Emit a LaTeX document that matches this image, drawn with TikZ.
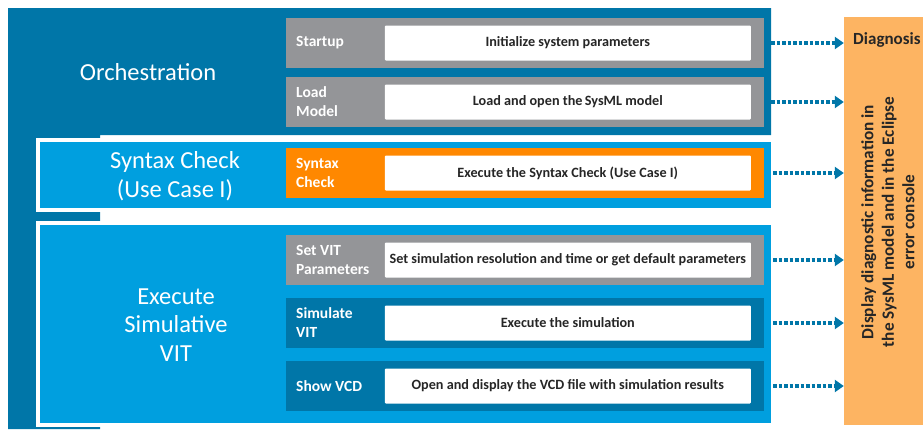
\documentclass[tikz,border=0pt]{standalone}
\usepackage{fontspec}
\setmainfont{Carlito}
\usepackage{tikz}
\usetikzlibrary{positioning,arrows.meta}

\definecolor{orchblue}{RGB}{0,118,168}
\definecolor{grpblue}{RGB}{0,159,223}
\definecolor{rowgray}{RGB}{148,149,152}
\definecolor{synorange}{RGB}{255,136,0}
\definecolor{diagorange}{RGB}{253,180,98}
\definecolor{txtgray}{RGB}{38,38,38}

\begin{document}
\begin{tikzpicture}[x=1pt,y=-1pt,
        grp/.style={rectangle,fill=grpblue,draw=white,line width=4pt,outer sep=0pt,minimum width=735.5pt},
        row/.style={rectangle,inner sep=0pt,outer sep=0pt,minimum width=478pt,minimum height=50pt},
        txtbox/.style={rectangle,fill=white,rounded corners=1pt,minimum width=366pt,minimum height=35pt,
            font=\bfseries\fontsize{14.2}{16}\selectfont,text=txtgray},
        rowlabel/.style={anchor=west,align=left,inner sep=0pt,text=white,font=\bfseries\fontsize{15.5}{19}\selectfont},
        grplabel/.style={align=center,text=white,font=\fontsize{24.5}{28.5}\selectfont},
        arrow/.style={-{Triangle[length=9pt,width=12pt]},orchblue,line width=3.5pt,dash pattern=on 3.5pt off 2pt}]
        \useasboundingbox (0,0) rectangle (923,429);
        % dark background of the orchestration part
        \fill[orchblue] (8,8) -| (771,135) -| (100,429) -| cycle;
        \coordinate (orch) at (771,71);
        \node[grplabel] (orchl) at (148,72) {Orchestration};
        \node[grp,minimum height=70pt] (syn) at (405.25,174.5) {};
        \node[grp,minimum height=202pt] (exec) at (405.25,323.5) {};
        \node[grplabel] (synl) at (175,176) {Syntax Check\\(Use Case I)};
        \node[grplabel] (execl) at (176,325) {Execute\\Simulative\\VIT};
        % rows
        \node[row,fill=rowgray] (start) at (525,43) {};
        \node[row,fill=rowgray,below=9pt of start] (load) {};
        \node[row,fill=synorange] (check) at (525,173) {};
        \node[row,fill=rowgray] (setvit) at (525,260) {};
        \node[row,fill=orchblue,below=13pt of setvit] (simvit) {};
        \node[row,fill=orchblue,below=13pt of simvit] (vcd) {};
        \node[rowlabel] at ([xshift=10pt]start.west) {Startup};
        \node[rowlabel] at ([xshift=10pt]load.west) {Load\\Model};
        \node[rowlabel] at ([xshift=10pt]check.west) {Syntax\\Check};
        \node[rowlabel] at ([xshift=10pt]setvit.west) {Set VIT\\Parameters};
        \node[rowlabel] at ([xshift=10pt]simvit.west) {Simulate\\VIT};
        \node[rowlabel] at ([xshift=10pt]vcd.west) {Show VCD};
        \node[txtbox,anchor=east] (startt) at ([xshift=-13pt]start.east) {Initialize system parameters};
        \node[txtbox,anchor=east] (loadt) at ([xshift=-13pt]load.east) {Load and open the\,SysML model};
        \node[txtbox,anchor=east] (checkt) at ([xshift=-13pt]check.east) {Execute the Syntax Check (Use Case I)};
        \node[txtbox,anchor=east] (setvitt) at ([xshift=-13pt]setvit.east) {Set simulation resolution and time or get default parameters};
        \node[txtbox,anchor=east] (simvitt) at ([xshift=-13pt]simvit.east) {Execute the simulation};
        \node[txtbox,anchor=east] (vcdt) at ([xshift=-13pt]vcd.east) {Open and display the VCD file with simulation results};
        % diagnosis column
        \node[rectangle,fill=diagorange,inner sep=0pt,minimum width=95pt,minimum height=408pt] (diag) at (891.5,221) {};
        \node[anchor=west,inner sep=0pt,text=txtgray,font=\bfseries\fontsize{17}{20}\selectfont] (diagt) at (853,40) {Diagnosis};
        \node[rotate=90,align=center,inner sep=0pt,text=txtgray,font=\bfseries\fontsize{17.2}{20.5}\selectfont] (diagd) at (888,222)
            {Display diagnostic information in\\the SysML model and in the Eclipse\\error console};
        % arrows
        \draw[arrow] (start.east -| orch) -- (start.east -| diag.west);
        \draw[arrow] (load.east -| orch) -- (load.east -| diag.west);
        \draw[arrow] (check.east -| syn.east) -- (check.east -| diag.west);
        \draw[arrow] (setvit.east -| exec.east) -- (setvit.east -| diag.west);
        \draw[arrow] (simvit.east -| exec.east) -- (simvit.east -| diag.west);
        \draw[arrow] (vcd.east -| exec.east) -- (vcd.east -| diag.west);
    \end{tikzpicture}
\end{document}
